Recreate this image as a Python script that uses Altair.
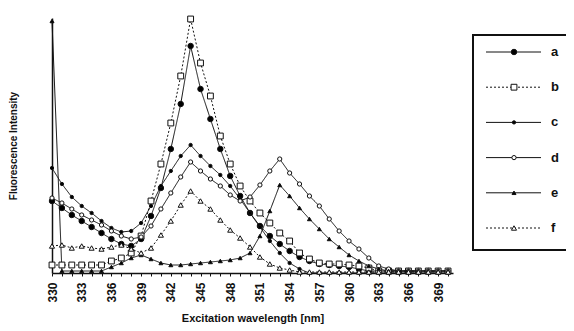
import altair as alt
import pandas as pd

# ---- data (arbitrary intensity units) ----
wavelengths = list(range(330, 371))
series_names = ["a", "b", "c", "d", "e", "f"]

a = [28.8, 26, 23.2, 20.8, 18.4, 16, 13.6, 11.6, 10.8, 13.6,
     22.8, 34, 49.6, 67.6, 90.8, 73.6, 61.6, 49.6, 38.8, 30.8,
     24, 18.8, 14.8, 11.6, 8.8, 6.4, 4.8, 3.6, 3.2, 2.8,
     2.4, 1.6, 0.8, 0.8, 0.8, 0.8, 0.8, 0.8, 0.8, 0.8, 0.8]
b = [3.2, 3.2, 3.2, 3.2, 3.2, 3.2, 4.8, 6, 8, 14.8,
     28.8, 43.6, 60, 78.8, 101.6, 84, 70.8, 54.8, 43.6, 34.8,
     28.8, 24, 20, 16, 12.8, 8, 5.6, 4, 3.6, 3.6,
     3.2, 2.8, 2, 0.8, 0.8, 0.8, 0.8, 0.8, 0.8, 0.8, 0.8]
c = [42, 35.6, 30.4, 26.8, 24, 20.8, 18, 16.4, 16.8, 20,
     26.8, 34.8, 40.8, 46.8, 51.2, 46.8, 42.8, 39.2, 34.8, 29.6,
     24, 18.4, 12.8, 8, 4, 1.6, 0, 0, 0, 0,
     0, 0, 0, 0, 0, 0, 0, 0, 0, 0, 0]
d = [30, 28, 25.6, 23.2, 21.2, 19.2, 16.8, 14.8, 13.6, 14.4,
     18.8, 25.6, 32, 38.4, 44.4, 40.8, 37.6, 34.8, 31.2, 28.8,
     30.4, 35.2, 40.8, 45.6, 40, 35.6, 30.8, 26.8, 21.6, 16.8,
     12.8, 9.6, 6, 2.8, 1.6, 0.8, 0.8, 0.8, 0.8, 0.8, 0.8]
e = [100.8, 0.8, 0.8, 0.8, 0.8, 0.8, 2.4, 4, 6, 7.2,
     5.6, 4, 3.2, 3.2, 3.6, 4, 4.4, 4.8, 5.2, 6,
     8, 14.8, 24.8, 35.2, 30.8, 26, 21.6, 17.6, 13.6, 10.4,
     7.2, 4.8, 2.8, 1.6, 0.8, 0.8, 0.8, 0.8, 0.8, 0.8, 0.8]
f = [10.8, 11.2, 10, 10.8, 10, 9.6, 10.4, 11.2, 9.6, 8,
     10, 15.2, 20.8, 27.2, 32.8, 28.8, 25.6, 21.2, 17.2, 14,
     10.4, 6.4, 3.6, 2, 1.2, 0.4, 0.4, 0.4, 0.4, 0.4,
     0.4, 0.4, 0.4, 0.4, 0.4, 0.4, 0.4, 0.4, 0.4, 0.4, 0.4]

tick_labels = [330, 333, 336, 339, 342, 345, 348, 351, 354, 357, 360, 363, 366, 369]

all_series = {"a": a, "b": b, "c": c, "d": d, "e": e, "f": f}
rows = []
for name in series_names:
    for w, v in zip(wavelengths, all_series[name]):
        rows.append({"wavelength": w, "value": v, "series": name})
df = pd.DataFrame(rows)
leg_df = pd.DataFrame({"series": series_names})

# ---- styles ----
FONT = "Liberation Sans"
shapes = ["circle", "square", "circle", "circle", "triangle-up", "triangle-up"]
fills = ["black", "white", "black", "white", "black", "white"]
sizes = [30, 34, 11, 18, 16, 26]
dashes = [[1, 0], [2, 2], [1, 0], [1, 0], [1, 0], [2, 2]]

shape_enc = alt.Shape("series:N", scale=alt.Scale(domain=series_names, range=shapes), legend=None)
fill_enc = alt.Fill("series:N", scale=alt.Scale(domain=series_names, range=fills), legend=None)
size_enc = alt.Size("series:N", scale=alt.Scale(type="ordinal", domain=series_names, range=sizes), legend=None)
dash_enc = alt.StrokeDash("series:N", scale=alt.Scale(domain=series_names, range=dashes), legend=None)

x_enc = alt.X(
    "wavelength:Q",
    scale=alt.Scale(domain=[330, 370.5], nice=False, zero=False),
    axis=alt.Axis(
        title="Excitation wavelength [nm]",
        values=wavelengths,
        labelExpr="indexof(" + str(tick_labels) + ", datum.value) >= 0 ? datum.label : ''",
        labelAngle=270,
        labelAlign="right",
        labelBaseline="middle",
        labelFont=FONT,
        labelFontSize=12,
        labelFontWeight="bold",
        labelColor="#111",
        labelPadding=6,
        tickSize=3,
        tickColor="#111",
        domainColor="#111",
        domainWidth=1.5,
        grid=False,
        titleFont=FONT,
        titleFontSize=11,
        titleFontWeight="bold",
        titleColor="#111",
        titlePadding=10,
    ),
)
y_enc = alt.Y(
    "value:Q",
    scale=alt.Scale(domain=[0, 102], nice=False),
    axis=alt.Axis(
        title="Fluorescence Intensity",
        labels=False,
        ticks=False,
        grid=False,
        domainColor="#111",
        domainWidth=1.5,
        titleFont=FONT,
        titleFontSize=10,
        titleFontWeight="bold",
        titleColor="#111",
        titlePadding=34,
    ),
)

base = alt.Chart(df).encode(x=x_enc, y=y_enc)
lines = base.mark_line(color="#111", strokeWidth=1).encode(strokeDash=dash_enc, detail="series:N")
points = base.mark_point(stroke="#111", strokeWidth=1, filled=False, fillOpacity=1, opacity=1).encode(
    shape=shape_enc, fill=fill_enc, size=size_enc
)
main = alt.layer(lines, points)

# ---- custom legend ----
leg_y = alt.Y("series:N", scale=alt.Scale(type="point", domain=series_names, range=[34, 210], padding=0), axis=None)
box = alt.Chart(leg_df).mark_rect(
    stroke="#111", strokeWidth=2, fillOpacity=0
).encode(x=alt.value(421), x2=alt.value(518), y=alt.value(17), y2=alt.value(232))
leg_rule = alt.Chart(leg_df).mark_rule(color="#111", strokeWidth=1).encode(
    x=alt.value(434), x2=alt.value(489), y=leg_y, strokeDash=dash_enc
)
leg_pts = alt.Chart(leg_df).mark_point(stroke="#111", strokeWidth=1, filled=False, fillOpacity=1, opacity=1).encode(
    x=alt.value(462), y=leg_y, shape=shape_enc, fill=fill_enc, size=size_enc
)
leg_txt = alt.Chart(leg_df).mark_text(
    align="left", baseline="middle", font=FONT, fontSize=13, fontWeight="bold", color="#111"
).encode(x=alt.value(499), y=leg_y, text="series:N")
legend = alt.layer(box, leg_rule, leg_pts, leg_txt)

chart = (
    alt.layer(main, legend)
    .resolve_scale(y="independent")
    .properties(
        width=401,
        height=255,
        autosize=alt.AutoSizeParams(type="none"),
        padding={"left": 44, "top": 10, "right": 113, "bottom": 56},
        background="white",
    )
    .configure_view(stroke=None)
)

chart.save("out.html", embed_options={"renderer": "svg", "actions": False})
